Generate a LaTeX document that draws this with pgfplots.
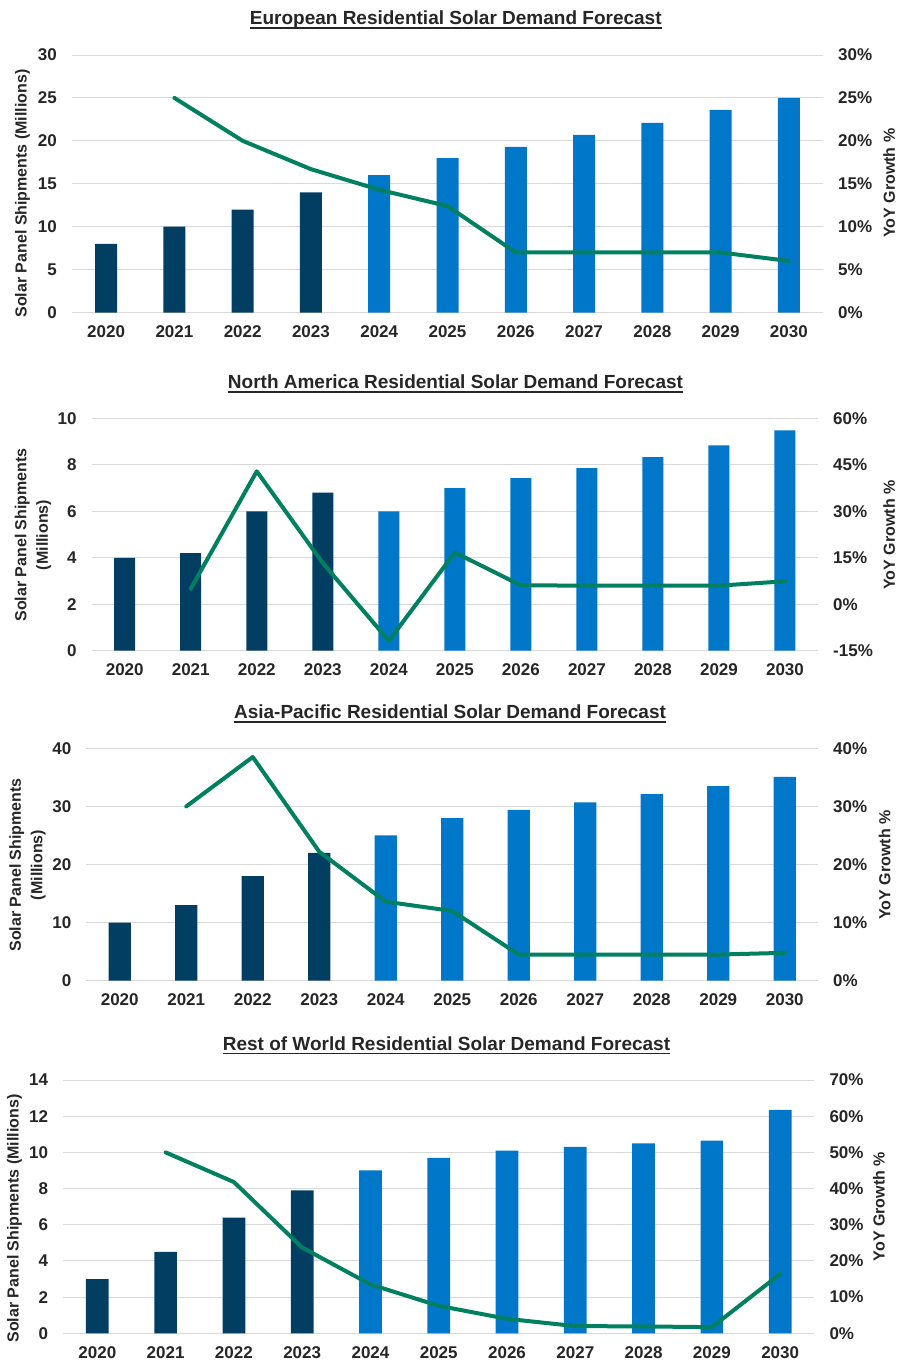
\documentclass[border=0pt]{standalone}
\usepackage{pgfplots}
\pgfplotsset{compat=1.18}
\usepackage{fontspec}
\setmainfont{Liberation Sans}
\definecolor{navy}{HTML}{023E62}
\definecolor{fblue}{HTML}{0077C8}
\definecolor{lgreen}{HTML}{008060}
\definecolor{gridc}{HTML}{D9D9D9}
\definecolor{txt}{HTML}{262626}
\newcommand\ttl[1]{\setbox0\hbox{#1}\rlap{\rule[-4pt]{\wd0}{1.5pt}}\box0}
\pgfplotsset{
 common/.style={
  scale only axis, anchor=south west,
  xmin=-0.5, xmax=10.5, enlargelimits=false,
  axis line style={draw=none}, tick style={draw=none}, major tick length=0pt,
  xtick={0,...,10},
  xticklabels={2020,2021,2022,2023,2024,2025,2026,2027,2028,2029,2030},
  tick label style={font=\fontsize{17}{20}\selectfont\bfseries, text=txt, inner sep=0pt},
  yticklabel shift=15pt, xticklabel shift=13pt,
  /pgf/number format/assume math mode=true,
  label style={font=\fontsize{16}{21.5}\selectfont\bfseries, text=txt, anchor=center, align=center},
  title style={font=\fontsize{19}{22}\selectfont\bfseries, text=txt, anchor=base, yshift=-6.5pt},
  clip=false,
 },
 leftax/.style={common, ymajorgrids, grid style={line width=1pt, gridc}},
 rightax/.style={common, axis y line*=right, hide x axis},
 hist/.style={ybar, bar width=#1, fill=navy, draw=none},
 fcst/.style={ybar, bar width=#1, fill=fblue, draw=none},
 gline/.style={lgreen, line width=4pt, line join=round, line cap=round, mark=none},
}
\begin{document}
\begin{tikzpicture}
\useasboundingbox (0,0) rectangle (900pt,-1361pt);
% ---------- Panel 1: Europe ----------
\begin{axis}[leftax, at={(72pt,-312.5pt)}, width=751pt, height=257.5pt,
  ymin=0, ymax=30, ytick={0,5,...,30},
  title={\ttl{European Residential Solar Demand Forecast}},
  title style={at={(axis description cs:0.511,1.1204)}},
  ylabel={Solar Panel Shipments (Millions)},
  ylabel style={at={(axis description cs:-0.0659,0.462)}}]
\addplot[hist=22pt] coordinates {(0,8) (1,10) (2,12) (3,14)};
\addplot[fcst=22pt] coordinates {(4,16) (5,18) (6,19.3) (7,20.7) (8,22.1) (9,23.6) (10,25)};
\end{axis}
\begin{axis}[rightax, at={(72pt,-312.5pt)}, width=751pt, height=257.5pt,
  ymin=0, ymax=30, ytick={0,5,...,30},
  yticklabels={0\%,5\%,10\%,15\%,20\%,25\%,30\%},
  ylabel={YoY Growth \%},
  ylabel style={at={(axis description cs:1.088,0.502)}}]
\addplot[gline] coordinates {(1,25) (2,20) (3,16.7) (4,14.3) (5,12.4) (6,7) (7,7) (8,7) (9,7) (10,6)};
\end{axis}
% ---------- Panel 2: North America ----------
\begin{axis}[leftax, at={(91.7pt,-650.7pt)}, width=726.3pt, height=232.4pt,
  ymin=0, ymax=10, ytick={0,2,...,10},
  title={\ttl{North America Residential Solar Demand Forecast}},
  title style={at={(axis description cs:0.5009,1.129)}},
  ylabel={Solar Panel Shipments\\(Millions)},
  ylabel style={at={(axis description cs:-0.0808,0.498)}}]
\addplot[hist=21pt] coordinates {(0,4) (1,4.2) (2,6) (3,6.8)};
\addplot[fcst=21pt] coordinates {(4,6) (5,7) (6,7.43) (7,7.86) (8,8.33) (9,8.84) (10,9.48)};
\end{axis}
\begin{axis}[rightax, at={(91.7pt,-650.7pt)}, width=726.3pt, height=232.4pt,
  ymin=-15, ymax=60, ytick={-15,0,15,30,45,60},
  yticklabels={-15\%,0\%,15\%,30\%,45\%,60\%},
  ylabel={YoY Growth \%},
  ylabel style={at={(axis description cs:1.0978,0.498)}}]
\addplot[gline] coordinates {(1,5) (2,42.9) (3,13.3) (4,-11.8) (5,16.7) (6,6.1) (7,6) (8,6) (9,6) (10,7.4)};
\end{axis}
% ---------- Panel 3: Asia-Pacific ----------
\begin{axis}[leftax, at={(86.5pt,-980.7pt)}, width=731.5pt, height=232.4pt,
  ymin=0, ymax=40, ytick={0,10,...,40},
  title={\ttl{Asia-Pacific Residential Solar Demand Forecast}},
  title style={at={(axis description cs:0.4969,1.129)}},
  ylabel={Solar Panel Shipments\\(Millions)},
  ylabel style={at={(axis description cs:-0.0807,0.498)}}]
\addplot[hist=22.3pt] coordinates {(0,10) (1,13) (2,18) (3,22)};
\addplot[fcst=22.3pt] coordinates {(4,25) (5,28) (6,29.4) (7,30.7) (8,32.1) (9,33.5) (10,35.1)};
\end{axis}
\begin{axis}[rightax, at={(86.5pt,-980.7pt)}, width=731.5pt, height=232.4pt,
  ymin=0, ymax=40, ytick={0,10,...,40},
  yticklabels={0\%,10\%,20\%,30\%,40\%},
  ylabel={YoY Growth \%},
  ylabel style={at={(axis description cs:1.091,0.498)}}]
\addplot[gline] coordinates {(1,30) (2,38.5) (3,22.2) (4,13.6) (5,12) (6,4.5) (7,4.5) (8,4.5) (9,4.5) (10,4.8)};
\end{axis}
% ---------- Panel 4: Rest of World ----------
\begin{axis}[leftax, at={(63.2pt,-1333.3pt)}, width=751.1pt, height=253.3pt,
  ymin=0, ymax=14, ytick={0,2,...,14},
  title={\ttl{Rest of World Residential Solar Demand Forecast}},
  title style={at={(axis description cs:0.5103,1.1204)}},
  ylabel={Solar Panel Shipments (Millions)},
  ylabel style={at={(axis description cs:-0.0648,0.453)}}]
\addplot[hist=22.7pt] coordinates {(0,3) (1,4.5) (2,6.4) (3,7.9)};
\addplot[fcst=22.7pt] coordinates {(4,9) (5,9.7) (6,10.1) (7,10.3) (8,10.5) (9,10.65) (10,12.35)};
\end{axis}
\begin{axis}[rightax, at={(63.2pt,-1333.3pt)}, width=751.1pt, height=253.3pt,
  ymin=0, ymax=70, ytick={0,10,...,70},
  yticklabels={0\%,10\%,20\%,30\%,40\%,50\%,60\%,70\%},
  ylabel={YoY Growth \%},
  ylabel style={at={(axis description cs:1.086,0.5)}}]
\addplot[gline] coordinates {(1,50) (2,41.8) (3,23.7) (4,13.5) (5,7.6) (6,4) (7,2) (8,1.9) (9,1.7) (10,16.4)};
\end{axis}
\end{tikzpicture}
\end{document}
